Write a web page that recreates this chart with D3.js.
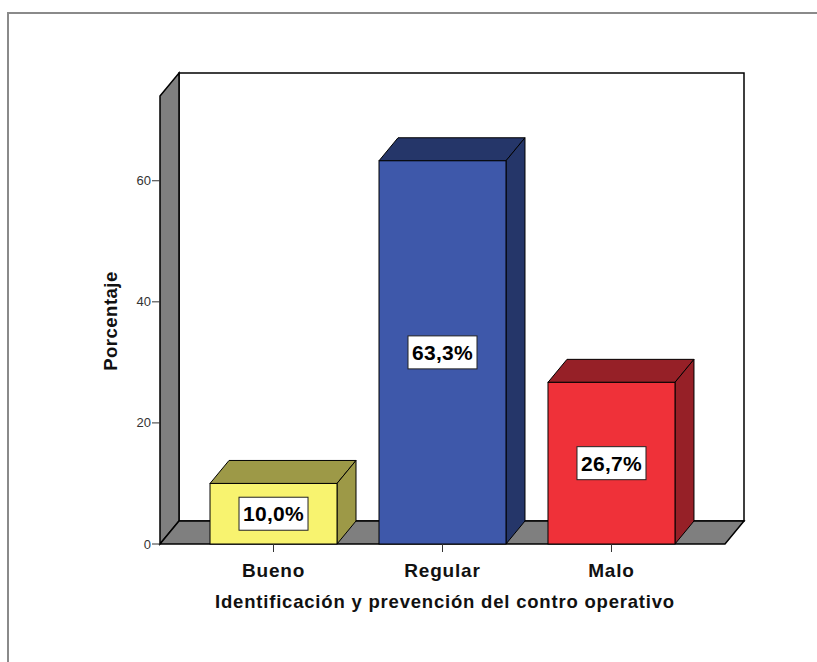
<!DOCTYPE html>
<html><head><meta charset="utf-8">
<script src="https://cdn.jsdelivr.net/npm/d3@7"></script>
<style>body{margin:0;background:#fff;}svg{display:block;}</style>
</head><body>
<svg id="c" width="817" height="662"></svg>
<script>
const categories = ["Bueno", "Regular", "Malo"];
const values = [10.0, 63.3, 26.7];
const valueLabels = ["10,0%", "63,3%", "26,7%"];
const yTicks = [0, 20, 40, 60];
const frontColors = ["#F8F36F", "#3E58AA", "#EF3139"];
const darkColors = ["#9D9947", "#253669", "#962027"];
const xTitle = "Identificación y prevención del contro operativo";
const yTitle = "Porcentaje";

const svg = d3.select("#c");
const DX = 19, DY = -23;
const x = d3.scaleBand().domain(categories).range([160, 725]).paddingInner(0.2485).paddingOuter(0.296);
const y = d3.scaleLinear().domain([0, 74]).range([544, 96]);
const x0 = 160, x1 = 725, y0 = y(0), yTop = y(74);
const font = "'Liberation Sans', Arial, sans-serif";

// outer frame
svg.append("path").attr("d", "M8,662 L8,13 L817,13").attr("fill", "none").attr("stroke", "#8a8a8a").attr("stroke-width", 2);

const poly = pts => "M" + pts.map(p => p.join(",")).join("L") + "Z";
// back wall
svg.append("path").attr("d", poly([[x0+DX, yTop+DY], [x1+DX, yTop+DY], [x1+DX, y0+DY], [x0+DX, y0+DY]]))
  .attr("fill", "#fff").attr("stroke", "#000").attr("stroke-width", 1.5);
// left wall
svg.append("path").attr("d", poly([[x0, yTop], [x0+DX, yTop+DY], [x0+DX, y0+DY], [x0, y0]]))
  .attr("fill", "#7f7f7f").attr("stroke", "#000").attr("stroke-width", 1.5);
// floor
svg.append("path").attr("d", poly([[x0, y0], [x0+DX, y0+DY], [x1+DX, y0+DY], [x1, y0]]))
  .attr("fill", "#7f7f7f").attr("stroke", "#000").attr("stroke-width", 1.5);

// y ticks
const yt = svg.append("g");
yTicks.forEach(t => {
  yt.append("line").attr("x1", x0 - 8).attr("x2", x0).attr("y1", y(t)).attr("y2", y(t)).attr("stroke", "#333").attr("stroke-width", 1);
  yt.append("text").attr("x", x0 - 9).attr("y", y(t)).attr("dy", "0.35em").attr("text-anchor", "end")
    .attr("font-family", font).attr("font-size", 13).attr("fill", "#333").text(t);
});

// bars
const bw = x.bandwidth();
categories.forEach((c, i) => {
  const xl = x(c), xr = xl + bw, yt2 = y(values[i]);
  const g = svg.append("g");
  g.append("path").attr("d", poly([[xl, yt2], [xl+DX, yt2+DY], [xr+DX, yt2+DY], [xr, yt2]]))
    .attr("fill", darkColors[i]).attr("stroke", "#000").attr("stroke-width", 1);
  g.append("path").attr("d", poly([[xr, yt2], [xr+DX, yt2+DY], [xr+DX, y0+DY], [xr, y0]]))
    .attr("fill", darkColors[i]).attr("stroke", "#000").attr("stroke-width", 1);
  g.append("rect").attr("x", xl).attr("y", yt2).attr("width", bw).attr("height", y0 - yt2)
    .attr("fill", frontColors[i]).attr("stroke", "#000").attr("stroke-width", 1);
  const cx = xl + bw / 2, cy = (yt2 + y0) / 2;
  g.append("rect").attr("x", cx - 34.5).attr("y", cy - 16.5).attr("width", 69).attr("height", 33)
    .attr("fill", "#fff").attr("stroke", "#222").attr("stroke-width", 1);
  g.append("text").attr("x", cx).attr("y", cy).attr("dy", "0.36em").attr("text-anchor", "middle")
    .attr("font-family", font).attr("font-weight", "bold").attr("font-size", 21).attr("letter-spacing", 0.3)
    .attr("fill", "#000").text(valueLabels[i]);
  // x tick
  svg.append("line").attr("x1", cx).attr("x2", cx).attr("y1", y0).attr("y2", y0 + 8).attr("stroke", "#333");
  svg.append("text").attr("x", cx).attr("y", 577).attr("text-anchor", "middle")
    .attr("font-family", font).attr("font-weight", "bold").attr("font-size", 19).attr("letter-spacing", 0.8)
    .attr("fill", "#111").text(c);
});

// axis titles
svg.append("text").attr("x", 445).attr("y", 608).attr("text-anchor", "middle")
  .attr("font-family", font).attr("font-weight", "bold").attr("font-size", 18.5).attr("letter-spacing", 0.8)
  .attr("fill", "#111").text(xTitle);
svg.append("text").attr("transform", "translate(117,321) rotate(-90)").attr("text-anchor", "middle")
  .attr("font-family", font).attr("font-weight", "bold").attr("font-size", 18.5).attr("letter-spacing", 0.5)
  .attr("fill", "#111").text(yTitle);
</script>
</body></html>
